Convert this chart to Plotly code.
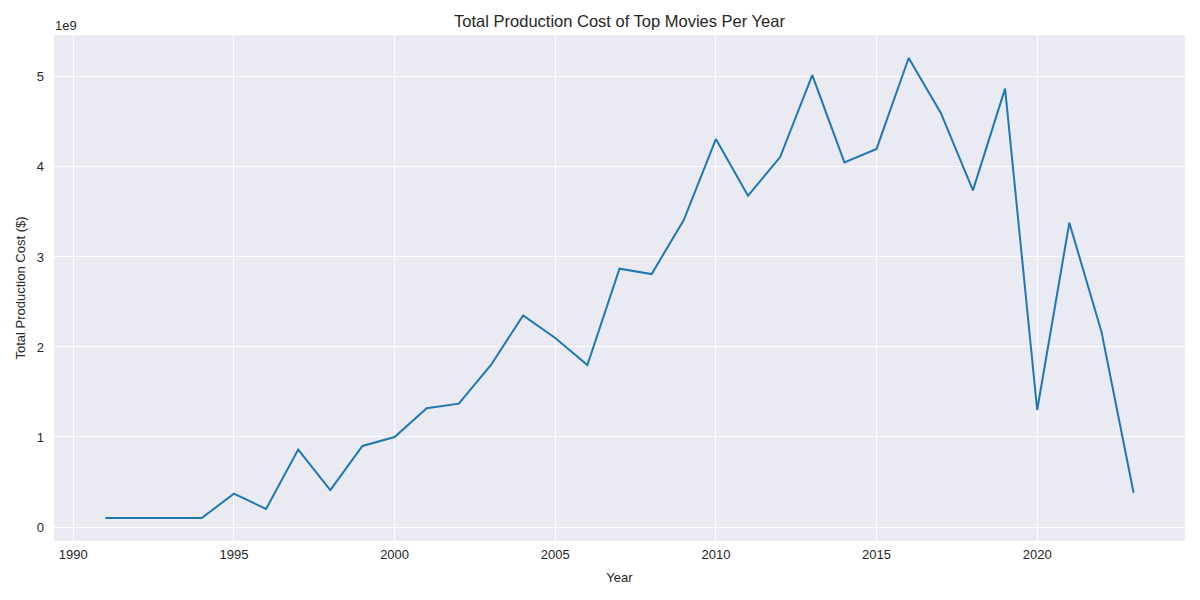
import plotly.graph_objects as go

years = list(range(1991, 2024))
# total production cost per year, in units of 1e9 dollars
cost_e9 = [0.10, 0.10, 0.10, 0.10, 0.37, 0.20, 0.86, 0.41, 0.90, 1.00,
           1.32, 1.37, 1.80, 2.35, 2.10, 1.80, 2.87, 2.81, 3.41, 4.31,
           3.68, 4.11, 5.02, 4.05, 4.20, 5.21, 4.60, 3.74, 4.87, 1.30,
           3.38, 2.17, 0.38]
cost = [v * 1e9 for v in cost_e9]

x_ticks = [1990, 1995, 2000, 2005, 2010, 2015, 2020]
y_ticks = [0, 1e9, 2e9, 3e9, 4e9, 5e9]
y_labels = ["0", "1", "2", "3", "4", "5"]

font_family = "Liberation Sans, Arial, sans-serif"
text_col = "#262626"

W, H = 1192, 592  # page body adds an 8px offset in the browser

fig = go.Figure()
fig.add_trace(go.Scatter(x=years, y=cost, mode="lines",
                         line=dict(color="#1f77b4", width=2)))

# matplotlib-like 5% margins around the data
xmin, xmax = min(years), max(years)
ymin, ymax = min(cost), max(cost)
xpad = (xmax - xmin) * 0.05
ypad = (ymax - ymin) * 0.05

fig.update_layout(
    width=W, height=H,
    margin=dict(l=46, r=15, t=27, b=59, autoexpand=False),
    paper_bgcolor="white",
    plot_bgcolor="#EAEAF2",
    showlegend=False,
    font=dict(family=font_family, size=13, color=text_col),
    title=dict(text="Total Production Cost of Top Movies Per Year",
               x=(46 + W - 15) / 2 / W, xanchor="center",
               y=1 - 13 / H, yanchor="middle",
               font=dict(size=16.5, color=text_col)),
    xaxis=dict(range=[xmin - xpad, xmax + xpad], tickvals=x_ticks,
               showgrid=True, gridcolor="white", gridwidth=1,
               zeroline=False, showline=False, ticks="",
               tickfont=dict(size=13), ticklabelstandoff=4,
               title=dict(text="Year", font=dict(size=13), standoff=11)),
    yaxis=dict(range=[ymin - ypad, ymax + ypad], tickvals=y_ticks,
               ticktext=y_labels,
               showgrid=True, gridcolor="white", gridwidth=1,
               zeroline=False, showline=False, ticks="",
               tickfont=dict(size=13), ticklabelstandoff=9,
               title=dict(text="Total Production Cost ($)",
                          font=dict(size=13), standoff=8)),
    annotations=[dict(text="1e9", xref="paper", yref="paper",
                      x=0, y=1, xanchor="left", yanchor="middle",
                      xshift=-1, yshift=10, showarrow=False,
                      font=dict(size=13, color=text_col))],
)

fig.write_html("out.html")
